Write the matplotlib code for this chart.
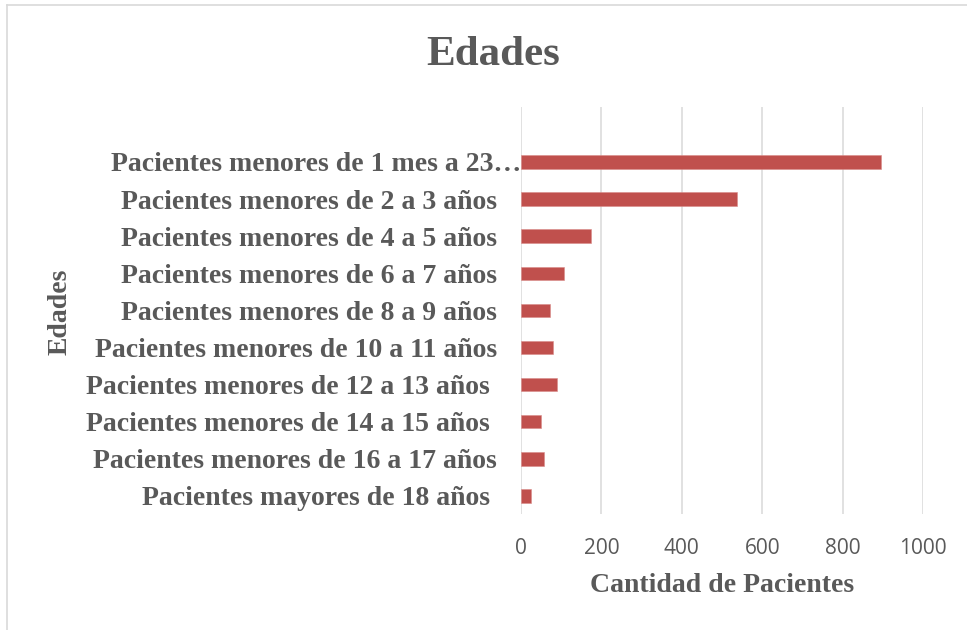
import matplotlib
matplotlib.use("Agg")
import matplotlib.pyplot as plt
from matplotlib import transforms
from matplotlib.lines import Line2D

categories = [
    "Pacientes menores de 1 mes a 23…",
    "Pacientes menores de 2 a 3 años",
    "Pacientes menores de 4 a 5 años",
    "Pacientes menores de 6 a 7 años",
    "Pacientes menores de 8 a 9 años",
    "Pacientes menores de 10 a 11 años",
    "Pacientes menores de 12 a 13 años ",
    "Pacientes menores de 14 a 15 años ",
    "Pacientes menores de 16 a 17 años",
    "Pacientes mayores de 18 años ",
]
values = [895, 538, 173, 107, 71, 80, 90, 49, 58, 26]
x_ticks = [0, 200, 400, 600, 800, 1000]

title = "Edades"
x_label = "Cantidad de Pacientes"
y_label = "Edades"

GRAY = "#595959"
BAR = "#C0504D"
GRID = "#D9D9D9"
SERIF = ["Liberation Serif", "DejaVu Serif"]

W, H = 967, 630
fig = plt.figure(figsize=(W / 100, H / 100), dpi=100)
ax = fig.add_axes([521 / W, 1 - 514 / H, 402 / W, 407 / H])

n = len(categories)
ypos = [n - 1 - i for i in range(n)]
ax.barh(ypos, values, height=0.36, color=BAR, edgecolor="#D98B89", linewidth=0.4, zorder=3)

ax.set_xlim(0, 1000)
ax.set_ylim(-0.485, 10.48)
ax.set_xticks(x_ticks)
ax.set_xticklabels([str(t) for t in x_ticks], fontfamily="Open Sans", fontsize=15, color=GRAY)
ax.tick_params(axis="x", length=0, pad=17)
ax.set_yticks([])
ax.grid(axis="x", color=GRID, linewidth=1.1, zorder=0)
for s in ax.spines.values():
    s.set_visible(False)

# category labels
for i, (lab, y) in enumerate(zip(categories, ypos)):
    dx = 0 if i == 0 else -24
    tr = transforms.offset_copy(ax.get_yaxis_transform(), fig=fig, x=dx, y=0, units="dots")
    ax.text(0, y, lab, transform=tr, ha="right", va="center_baseline",
            fontfamily=SERIF, fontweight="bold", fontsize=20, color=GRAY)

fig.text(493 / W, 1 - 55 / H, title, ha="center", va="center",
         fontfamily=SERIF, fontweight="bold", fontsize=31, color=GRAY)
fig.text(722 / W, 1 - 586 / H, x_label, ha="center", va="center",
         fontfamily=SERIF, fontweight="bold", fontsize=20, color=GRAY)
fig.text(60 / W, 1 - 312 / H, y_label, ha="center", va="center", rotation=90,
         fontfamily=SERIF, fontweight="bold", fontsize=20, color=GRAY)

# chart border (top and left visible)
fig.add_artist(Line2D([7 / W, 1], [1 - 5 / H, 1 - 5 / H], color=GRID, linewidth=1.2))
fig.add_artist(Line2D([7 / W, 7 / W], [0, 1 - 5 / H], color=GRID, linewidth=1.2))

fig.savefig("out.png", dpi=100, facecolor="white")
